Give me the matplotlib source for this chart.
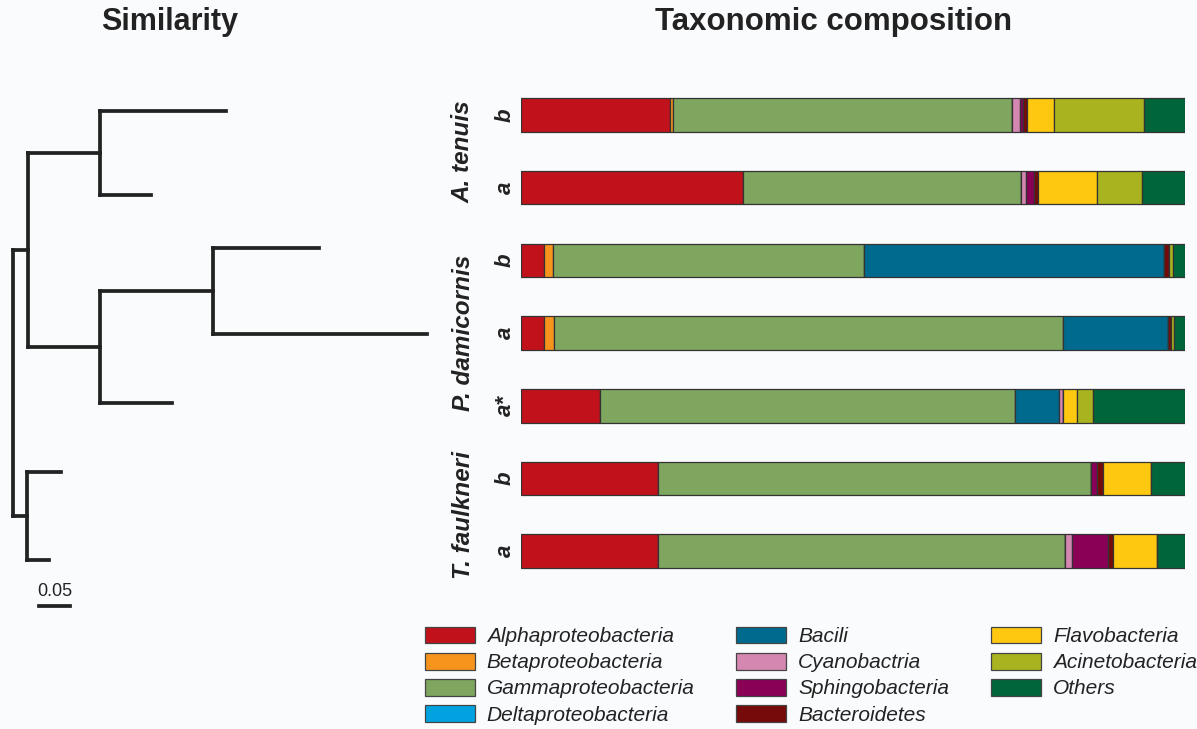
import numpy as np
import matplotlib
matplotlib.use('Agg')
import matplotlib.pyplot as plt
from matplotlib.patches import Patch

plt.rcParams['font.family'] = ['Liberation Sans', 'DejaVu Sans']

# ---- data ----
taxa = ['Alphaproteobacteria', 'Betaproteobacteria', 'Gammaproteobacteria',
        'Deltaproteobacteria', 'Bacili', 'Cyanobactria', 'Sphingobacteria',
        'Bacteroidetes', 'Flavobacteria', 'Acinetobacteria', 'Others']
colors = ['#c1121b', '#f7941d', '#7ea65f', '#00a3e0', '#006a8e', '#d487b0',
          '#8a0057', '#760a0a', '#fdc80f', '#a9b31f', '#00663a']

sample_labels = ['b', 'a', 'b', 'a', 'a*', 'b', 'a']
species = ['A. tenuis', 'P. damicornis', 'T. faulkneri']
species_rows = [0.5, 3.0, 5.5]

# percent composition, one row per sample (top to bottom)
comp = np.array([
    # alpha beta gamma delta bacili cyano sphingo bactero flavo acineto others
    [22.4, 0.5, 51.1, 0.0, 0.0, 1.1, 0.5, 0.6, 4.1, 13.6, 6.1],
    [33.5, 0.0, 41.8, 0.0, 0.0, 0.7, 1.3, 0.5, 9.0, 6.7, 6.5],
    [3.5, 1.3, 46.8, 0.0, 45.3, 0.0, 0.0, 0.7, 0.0, 0.6, 1.8],
    [3.4, 1.5, 76.8, 0.0, 15.7, 0.0, 0.0, 0.5, 0.0, 0.5, 1.6],
    [11.9, 0.0, 62.5, 0.0, 6.6, 0.7, 0.0, 0.0, 2.0, 2.5, 13.8],
    [20.7, 0.0, 65.1, 0.0, 0.0, 0.0, 0.9, 1.0, 7.2, 0.0, 5.1],
    [20.7, 0.0, 61.3, 0.0, 0.0, 1.0, 5.4, 0.8, 6.6, 0.0, 4.2],
])

# dendrogram: (children, branch length) nested; leaves are tip y positions (row units)
tip_y = [-0.055, 1.09, 1.82, 3.01, 3.96, 4.91, 6.12]
tree = ([([(tip_y[0], 0.204), (tip_y[1], 0.083)], 0.116),
         ([([(tip_y[2], 0.171), (tip_y[3], 0.345)], 0.183), (tip_y[4], 0.116)], 0.116)], 0.024), \
       ([(tip_y[5], 0.054), (tip_y[6], 0.035)], 0.023)
scale_len = 0.05

bg = '#fafbfd'
ink = '#222222'

fig = plt.figure(figsize=(11.97, 7.29), dpi=100, facecolor=bg)

# ---- bars ----
ax = fig.add_axes([521 / 1197, 1 - 587.5 / 729, 664 / 1197, 508.8 / 729])
ax.set_facecolor('none')
rows = np.arange(len(sample_labels))
left = np.zeros(len(rows))
for j in range(len(taxa)):
    ax.barh(rows, comp[:, j], left=left, height=0.46, color=colors[j],
            edgecolor='#333333', linewidth=0.9)
    left += comp[:, j]
ax.set_xlim(0, 100)
ax.set_ylim(6.5, -0.5)
ax.axis('off')

for r, lab in zip(rows, sample_labels):
    ax.text(-0.024, r, lab, transform=ax.get_yaxis_transform(), rotation=90,
            ha='center', va='center', fontsize=16, fontweight='bold',
            fontstyle='italic', color=ink)
for r, sp in zip(species_rows, species):
    ax.text(-0.087, r, sp, transform=ax.get_yaxis_transform(), rotation=90,
            ha='center', va='center', fontsize=17.5, fontweight='bold',
            fontstyle='italic', color=ink)

# ---- dendrogram ----
tax = fig.add_axes([0, 1 - 640 / 729, 440 / 1197, 561 / 729])
tax.set_facecolor('none')
tax.set_xlim(-13 / 620, 427 / 620)
tax.set_ylim(6.5 + 52.5 / 72.7, -0.5)
tax.axis('off')
lw = 2.7


def draw(node, x0):
    # node is (subtree, length); subtree is list of children or a leaf y
    sub, length = node
    x1 = x0 + length
    if isinstance(sub, list):
        ys = [draw(c, x1) for c in sub]
        tax.plot([x1, x1], [min(ys), max(ys)], color=ink, lw=lw,
                 solid_capstyle='projecting')
        y = (min(ys) + max(ys)) / 2
    else:
        y = sub
    tax.plot([x0, x1], [y, y], color=ink, lw=lw, solid_capstyle='projecting')
    return y


ys = [draw(n, 0.0) for n in tree]
tax.plot([0, 0], [min(ys), max(ys)], color=ink, lw=lw, solid_capstyle='projecting')

sy = 6.75
tax.plot([0.042, 0.042 + scale_len], [sy, sy], color=ink, lw=lw)
tax.text(0.042 + scale_len / 2, sy - 0.08, '0.05', ha='center', va='bottom',
         fontsize=13, color=ink)

# ---- titles ----
fig.text(170 / 1197, 1 - 22 / 729, 'Similarity', ha='center', va='center',
         fontsize=22, fontweight='bold', color=ink)
fig.text(834 / 1197, 1 - 22 / 729, 'Taxonomic composition', ha='center',
         va='center', fontsize=22.5, fontweight='bold', color=ink)

# ---- legend ----
handles = [Patch(facecolor=c, edgecolor='#444444', linewidth=0.9) for c in colors]
leg = fig.legend(handles, taxa, ncol=3, loc='upper left',
                 bbox_to_anchor=(410 / 1197, 1 - 612 / 729), frameon=False,
                 prop={'size': 15, 'style': 'italic'},
                 handlelength=2.4, handleheight=0.87, handletextpad=0.58,
                 columnspacing=2.0, labelspacing=0.31, borderpad=0.2)
for t in leg.get_texts():
    t.set_color(ink)

fig.savefig('out.png', dpi=100, facecolor=bg)
